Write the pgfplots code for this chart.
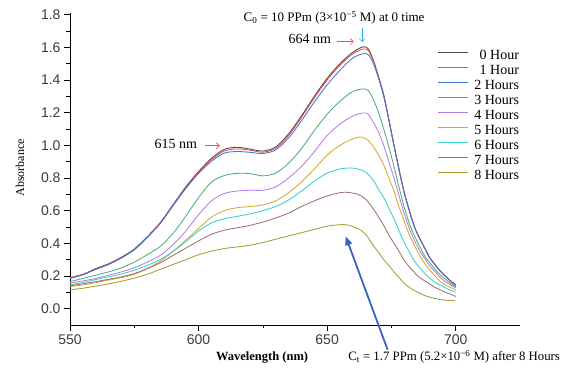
\documentclass[border=0pt]{standalone}
\usepackage{fontspec}
\setmainfont{Liberation Serif}
\newfontfamily\arialfont{Liberation Sans}
\usepackage{pgfplots}
\pgfplotsset{compat=1.18}
\usetikzlibrary{arrows.meta}

\definecolor{hA}{HTML}{4A4A4A}
\definecolor{hB}{HTML}{F0484C}
\definecolor{hC}{HTML}{3A78DA}
\definecolor{hD}{HTML}{4CAF77}
\definecolor{hE}{HTML}{B57EE6}
\definecolor{hF}{HTML}{D9A630}
\definecolor{hG}{HTML}{35D0D5}
\definecolor{hH}{HTML}{A07070}
\definecolor{hI}{HTML}{A89B30}
\definecolor{ticktext}{HTML}{3C3C3C}
\definecolor{bigarrow}{HTML}{3A62C4}
\definecolor{peakarrow}{HTML}{F04858}
\definecolor{downarrow}{HTML}{30A8E8}

\begin{document}
\begin{tikzpicture}
\begin{axis}[
  at={(0,0)}, anchor=south west,
  scale only axis, width=450pt, height=312pt,
  xmin=550, xmax=725, ymin=-0.1, ymax=1.81,
  axis x line*=bottom, axis y line*=left,
  axis line style={black, line width=0.8pt},
  tick align=outside,
  major tick length=6pt, minor tick length=3.5pt,
  tick style={black, line width=0.7pt},
  xtick={550,600,650,700}, minor x tick num=1,
  ytick={0,0.2,0.4,0.6,0.8,1.0,1.2,1.4,1.6,1.8}, minor y tick num=1,
  /pgf/number format/assume math mode=true,
  yticklabel style={/pgf/number format/fixed, /pgf/number format/fixed zerofill, /pgf/number format/precision=1},
  xticklabel style={/pgf/number format/1000 sep={}},
  tick label style={font=\arialfont\fontsize{14}{14}\selectfont, text=ticktext},
  ylabel={Absorbance},
  ylabel style={at={(axis description cs:-0.111,0.504)}, anchor=center, font=\fontsize{12}{12}\selectfont},
  clip=false,
  every axis plot/.append style={line width=0.85pt, smooth, tension=0.5},
  legend cell align=right,
  legend image code/.code={\draw[#1, line width=1pt] (0pt,3.5pt) -- (30pt,3.5pt);},
  legend style={draw=none, fill=none, at={(axis description cs:0.809,0.894)}, anchor=north west,
    inner xsep=3pt, inner ysep=2pt, column sep=4pt,
    font=\fontsize{14}{14}\selectfont,
    nodes={inner sep=2pt, text height=9.5pt, text depth=1.5pt}},
]
% 0 Hour
\addplot[hA] coordinates {
(550,0.19)(555,0.21)(560,0.245)(565,0.275)(570,0.315)(575,0.365)(580,0.44)(585,0.525)
(590,0.635)(595,0.745)(600,0.84)(605,0.92)(610,0.975)(615,0.988)(620,0.977)(625,0.965)
(630,0.99)(635,1.07)(640,1.18)(645,1.30)(650,1.41)(655,1.50)(660,1.57)(664,1.603)
(666,1.59)(668,1.52)(670,1.42)(672,1.31)(674,1.16)(676,1.00)(678,0.85)(680,0.71)
(682,0.60)(684,0.50)(686,0.43)(688,0.37)(690,0.31)(692,0.27)(694,0.23)(696,0.20)
(698,0.17)(700,0.147)};
\addlegendentry{0 Hour}
% 1 Hour
\addplot[hB] coordinates {
(550,0.19)(555,0.21)(560,0.243)(565,0.273)(570,0.313)(575,0.362)(580,0.437)(585,0.522)
(590,0.632)(595,0.74)(600,0.835)(605,0.912)(610,0.965)(615,0.978)(620,0.97)(625,0.958)
(630,0.982)(635,1.06)(640,1.17)(645,1.29)(650,1.40)(655,1.49)(660,1.56)(664,1.59)
(666,1.58)(668,1.515)(670,1.415)(672,1.305)(674,1.155)(676,0.995)(678,0.845)(680,0.705)
(682,0.595)(684,0.497)(686,0.427)(688,0.367)(690,0.308)(692,0.267)(694,0.228)(696,0.198)
(698,0.168)(700,0.146)};
\addlegendentry{1 Hour}
% 2 Hours
\addplot[hC] coordinates {
(550,0.185)(555,0.207)(560,0.24)(565,0.27)(570,0.31)(575,0.36)(580,0.435)(585,0.52)
(590,0.628)(595,0.735)(600,0.828)(605,0.902)(610,0.952)(615,0.962)(620,0.957)(625,0.95)
(630,0.972)(635,1.045)(640,1.15)(645,1.265)(650,1.37)(655,1.46)(660,1.535)(664,1.56)
(666,1.555)(668,1.50)(670,1.41)(672,1.30)(674,1.155)(676,1.00)(678,0.85)(680,0.71)
(682,0.60)(684,0.50)(686,0.43)(688,0.37)(690,0.31)(692,0.27)(694,0.23)(696,0.198)
(698,0.168)(700,0.14)};
\addlegendentry{2 Hours}
% 3 Hours
\addplot[hD] coordinates {
(550,0.165)(555,0.185)(560,0.205)(565,0.225)(570,0.25)(575,0.285)(580,0.33)(585,0.38)
(590,0.46)(595,0.565)(600,0.68)(605,0.775)(610,0.815)(615,0.828)(620,0.827)(625,0.813)
(630,0.83)(635,0.89)(640,0.98)(645,1.09)(650,1.19)(655,1.27)(660,1.33)(664,1.345)
(666,1.335)(668,1.28)(670,1.20)(672,1.10)(674,0.99)(676,0.87)(678,0.74)(680,0.62)
(682,0.52)(684,0.445)(686,0.38)(688,0.32)(690,0.28)(692,0.24)(694,0.205)(696,0.18)
(698,0.155)(700,0.135)};
\addlegendentry{3 Hours}
% 4 Hours
\addplot[hE] coordinates {
(550,0.155)(555,0.17)(560,0.185)(565,0.205)(570,0.225)(575,0.25)(580,0.285)(585,0.325)
(590,0.39)(595,0.475)(600,0.575)(605,0.66)(610,0.705)(615,0.72)(620,0.725)(625,0.725)
(630,0.745)(635,0.80)(640,0.87)(645,0.96)(650,1.06)(655,1.13)(660,1.18)(664,1.198)
(666,1.19)(668,1.14)(670,1.08)(672,1.00)(674,0.90)(676,0.80)(678,0.69)(680,0.58)
(682,0.49)(684,0.415)(686,0.355)(688,0.305)(690,0.26)(692,0.225)(694,0.19)(696,0.165)
(698,0.145)(700,0.127)};
\addlegendentry{4 Hours}
% 5 Hours
\addplot[hF] coordinates {
(550,0.135)(555,0.145)(560,0.16)(565,0.175)(570,0.19)(575,0.21)(580,0.245)(585,0.29)
(590,0.35)(595,0.42)(600,0.49)(605,0.56)(610,0.60)(615,0.618)(620,0.625)(625,0.635)
(630,0.66)(635,0.71)(640,0.775)(645,0.855)(650,0.94)(655,1.00)(660,1.04)(663,1.051)
(666,1.03)(668,0.99)(670,0.94)(672,0.88)(674,0.80)(676,0.72)(678,0.62)(680,0.535)
(682,0.45)(684,0.385)(686,0.325)(688,0.275)(690,0.235)(692,0.20)(694,0.165)(696,0.145)
(698,0.13)(700,0.115)};
\addlegendentry{5 Hours}
% 6 Hours
\addplot[hG] coordinates {
(550,0.145)(555,0.16)(560,0.178)(565,0.195)(570,0.212)(575,0.235)(580,0.265)(585,0.30)
(590,0.35)(595,0.41)(600,0.475)(605,0.525)(610,0.55)(615,0.565)(620,0.58)(625,0.60)
(630,0.625)(635,0.665)(640,0.72)(645,0.78)(650,0.83)(655,0.855)(659,0.861)(662,0.855)
(665,0.835)(668,0.785)(670,0.73)(672,0.68)(674,0.615)(676,0.55)(678,0.475)(680,0.405)
(682,0.345)(684,0.29)(686,0.25)(688,0.215)(690,0.185)(692,0.16)(694,0.145)(696,0.128)
(698,0.113)(700,0.10)};
\addlegendentry{6 Hours}
% 7 Hours
\addplot[hH] coordinates {
(550,0.14)(555,0.152)(560,0.165)(565,0.18)(570,0.195)(575,0.215)(580,0.245)(585,0.28)
(590,0.325)(595,0.37)(600,0.415)(605,0.455)(610,0.48)(615,0.495)(620,0.51)(625,0.53)
(630,0.555)(635,0.585)(640,0.625)(645,0.66)(650,0.69)(655,0.71)(658,0.712)(662,0.70)
(665,0.67)(668,0.61)(670,0.56)(672,0.51)(674,0.45)(676,0.40)(678,0.35)(680,0.295)
(682,0.255)(684,0.22)(686,0.19)(688,0.17)(690,0.15)(692,0.13)(694,0.115)(696,0.10)
(698,0.088)(700,0.075)};
\addlegendentry{7 Hours}
% 8 Hours
\addplot[hI] coordinates {
(550,0.115)(555,0.125)(560,0.138)(565,0.152)(570,0.168)(575,0.187)(580,0.21)(585,0.24)
(590,0.27)(595,0.30)(600,0.33)(605,0.352)(610,0.368)(615,0.378)(620,0.388)(625,0.405)
(630,0.425)(635,0.445)(640,0.465)(645,0.485)(650,0.505)(655,0.514)(658,0.512)(662,0.49)
(665,0.455)(668,0.385)(670,0.345)(672,0.30)(674,0.265)(676,0.225)(678,0.19)(680,0.155)
(682,0.13)(684,0.11)(686,0.095)(688,0.08)(690,0.07)(692,0.062)(694,0.056)(696,0.052)
(698,0.05)(700,0.048)};
\addlegendentry{8 Hours}

% annotations
\node[anchor=base, font=\fontsize{13}{13}\selectfont, inner sep=0pt] at (axis cs:652.7,1.757)
  {C\textsubscript{0} = 10 PPm (3×10\textsuperscript{−5} M) at 0 time};
\node[anchor=center, font=\fontsize{14}{14}\selectfont, inner sep=0pt] at (axis cs:643.3,1.653) {664 nm};
\draw[peakarrow, line width=0.6pt, -{Straight Barb[length=3pt,width=6pt]}] (axis cs:653.9,1.635) -- (axis cs:660.3,1.635);
\draw[downarrow, line width=0.6pt, -{Straight Barb[length=3pt,width=6pt]}] (axis cs:663.6,1.72) -- (axis cs:663.6,1.632);
\node[anchor=center, font=\fontsize{14}{14}\selectfont, inner sep=0pt] at (axis cs:591.2,1.01) {615 nm};
\draw[peakarrow, line width=0.6pt, -{Straight Barb[length=3pt,width=6pt]}] (axis cs:602.5,0.998) -- (axis cs:608.2,0.998);
\draw[bigarrow, line width=1.8pt, -{Triangle[length=9pt,width=7pt]}] (axis cs:673.5,-0.251) -- (axis cs:657.2,0.443);
\node[anchor=base, font=\fontsize{12.8}{13}\selectfont, inner sep=0pt] at (axis cs:699.4,-0.318)
  {C\textsubscript{t} = 1.7 PPm (5.2×10\textsuperscript{−6} M) after 8 Hours};
\node[anchor=base, font=\bfseries\fontsize{12.5}{13}\selectfont, inner sep=0pt] at (axis cs:624.7,-0.318)
  {Wavelength (nm)};
\end{axis}
\pgfresetboundingbox
\path[use as bounding box] (-70pt,-44pt) rectangle (493pt,325pt);
\end{tikzpicture}
\end{document}
